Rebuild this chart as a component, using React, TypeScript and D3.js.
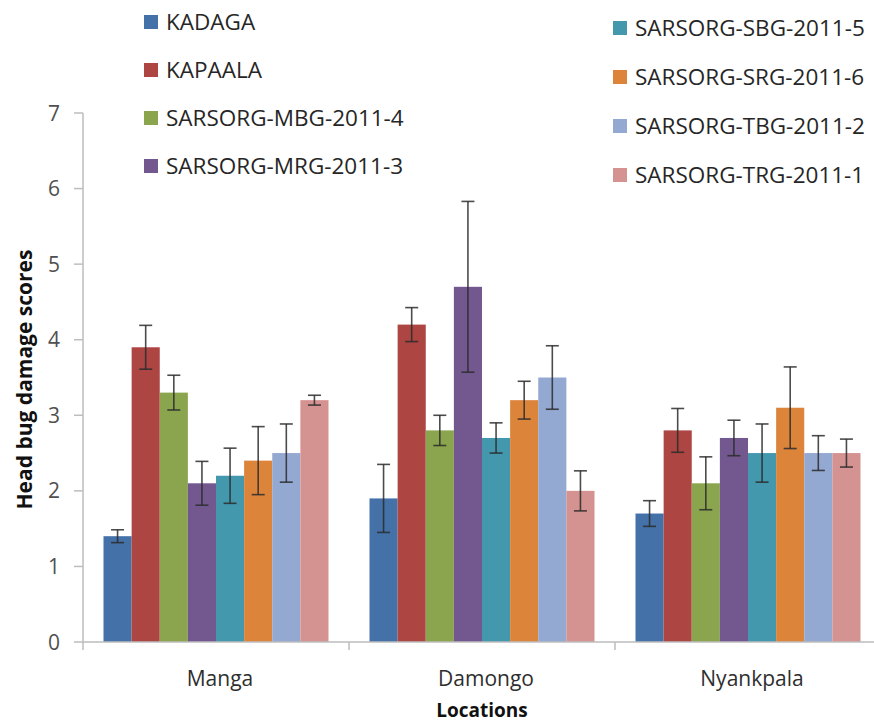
import React from "react";
import * as d3 from "d3";

const locations = ["Manga", "Damongo", "Nyankpala"];
const seriesNames = [
  "KADAGA",
  "KAPAALA",
  "SARSORG-MBG-2011-4",
  "SARSORG-MRG-2011-3",
  "SARSORG-SBG-2011-5",
  "SARSORG-SRG-2011-6",
  "SARSORG-TBG-2011-2",
  "SARSORG-TRG-2011-1",
];
const seriesColors = ["#4471a8", "#ad4543", "#8aa54e", "#72588f", "#4398ae", "#dd843b", "#93a9d2", "#d49291"];

const mangaMeans = [1.4, 3.9, 3.3, 2.1, 2.2, 2.4, 2.5, 3.2];
const mangaErr = [0.085, 0.29, 0.23, 0.29, 0.365, 0.45, 0.385, 0.065];
const damongoMeans = [1.9, 4.2, 2.8, 4.7, 2.7, 3.2, 3.5, 2.0];
const damongoErr = [0.45, 0.225, 0.2, 1.13, 0.2, 0.25, 0.42, 0.265];
const nyankpalaMeans = [1.7, 2.8, 2.1, 2.7, 2.5, 3.1, 2.5, 2.5];
const nyankpalaErr = [0.17, 0.29, 0.35, 0.235, 0.385, 0.54, 0.23, 0.185];

const yTicks = [0, 1, 2, 3, 4, 5, 6, 7];

const meansByLocation = [mangaMeans, damongoMeans, nyankpalaMeans];
const errByLocation = [mangaErr, damongoErr, nyankpalaErr];

export default function App() {
  const W = 874;
  const H = 724;
  const left = 83;
  const right = 881;
  const top = 113;
  const bottom = 642;

  const x0 = d3.scaleBand<string>().domain(locations).range([left, right]);
  const bw = x0.bandwidth();
  const x1 = d3.scaleBand<string>().domain(seriesNames).range([20.5, bw - 20.5]);
  const y = d3.scaleLinear().domain([0, 7]).range([bottom, top]);

  const font = "'Open Sans', 'Liberation Sans', sans-serif";

  const bars: React.ReactNode[] = [];
  const errs: React.ReactNode[] = [];
  locations.forEach((loc, li) => {
    seriesNames.forEach((s, si) => {
      const v = meansByLocation[li][si];
      const e = errByLocation[li][si];
      const bx = (x0(loc) as number) + (x1(s) as number);
      const w = x1.bandwidth();
      bars.push(
        <rect key={`b-${li}-${si}`} x={bx} y={y(v)} width={w} height={y(0) - y(v)} fill={seriesColors[si]} />
      );
      const cx = bx + w / 2;
      const capW = 6.5;
      errs.push(
        <g key={`e-${li}-${si}`} stroke="#2b2b2b" strokeWidth={1.6} strokeOpacity={0.85}>
          <line x1={cx} x2={cx} y1={y(v + e)} y2={y(v - e)} />
          <line x1={cx - capW} x2={cx + capW} y1={y(v + e)} y2={y(v + e)} />
          <line x1={cx - capW} x2={cx + capW} y1={y(v - e)} y2={y(v - e)} />
        </g>
      );
    });
  });

  const legendLeft = seriesNames.slice(0, 4).map((s, i) => ({ s, c: seriesColors[i], x: 144, y: 22 + i * 48 }));
  const legendRight = seriesNames.slice(4).map((s, i) => ({ s, c: seriesColors[i + 4], x: 613, y: 28 + i * 49 }));

  return (
    <div style={{ position: "absolute", left: 0, top: 0 }}>
      <svg width={W} height={H} style={{ display: "block", background: "#fff" }}>
        {/* y axis */}
        <line x1={left} x2={left} y1={top} y2={bottom} stroke="#bdbdbd" strokeWidth={1.5} />
        {yTicks.map((t) => (
          <g key={`yt-${t}`}>
            <line x1={left - 9} x2={left} y1={y(t)} y2={y(t)} stroke="#bdbdbd" strokeWidth={1.5} />
            <text x={left - 23} y={y(t)} dy="0.36em" textAnchor="end" fontFamily={font} fontSize={21} fill="#505050">
              {t}
            </text>
          </g>
        ))}
        {bars}
        {errs}
        {/* x axis */}
        <line x1={left} x2={right} y1={bottom} y2={bottom} stroke="#bdbdbd" strokeWidth={1.5} />
        {locations.map((loc, i) => (
          <line
            key={`xt-${i}`}
            x1={x0(loc) as number}
            x2={x0(loc) as number}
            y1={bottom}
            y2={bottom + 8}
            stroke="#bdbdbd"
            strokeWidth={1.5}
          />
        ))}
        {locations.map((loc) => (
          <text
            key={`xl-${loc}`}
            x={(x0(loc) as number) + bw / 2 + 4}
            y={686}
            textAnchor="middle"
            fontFamily={font}
            fontSize={21}
            fill="#2e2e2e"
          >
            {loc}
          </text>
        ))}
        <text x={(left + right) / 2} y={717} textAnchor="middle" fontFamily={font} fontSize={19} fontWeight="bold" fill="#111">
          Locations
        </text>
        <text
          transform={`translate(24, ${(top + bottom) / 2 + 2}) rotate(-90)`}
          textAnchor="middle"
          dy="0.36em"
          fontFamily={font}
          fontSize={21}
          fontWeight="bold"
          fill="#111"
        >
          Head bug damage scores
        </text>
        {[...legendLeft, ...legendRight].map((d) => (
          <g key={`lg-${d.s}`}>
            <rect x={d.x} y={d.y - 7} width={14} height={14} fill={d.c} />
            <text x={d.x + 22} y={d.y} dy="0.36em" fontFamily={font} fontSize={22.5} fill="#262626">
              {d.s}
            </text>
          </g>
        ))}
      </svg>
    </div>
  );
}
